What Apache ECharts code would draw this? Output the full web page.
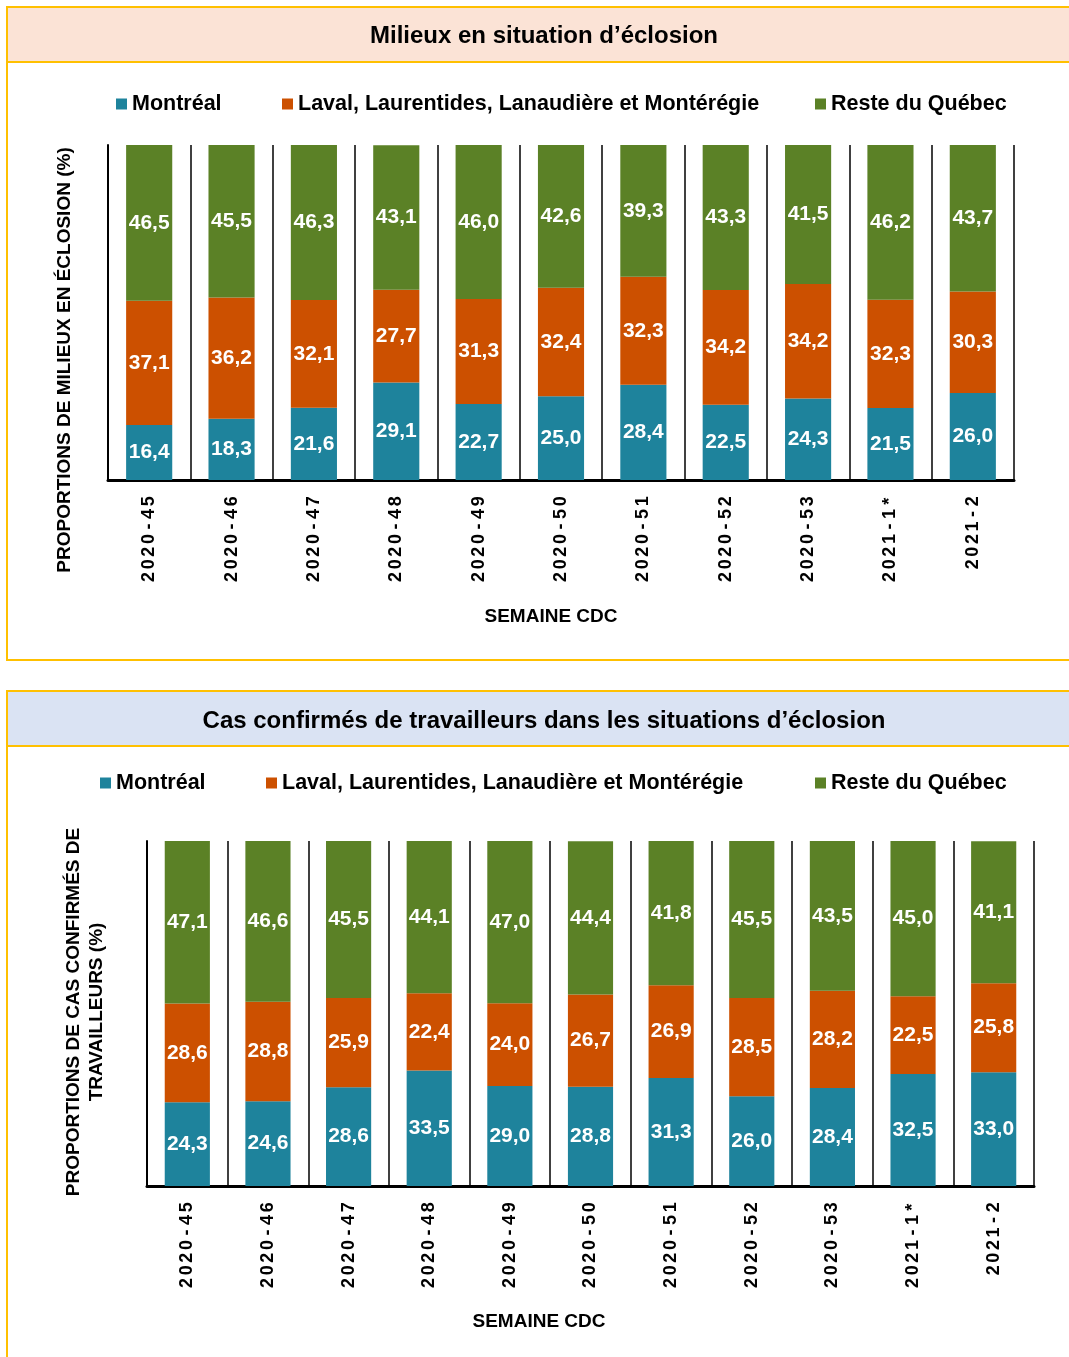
<!DOCTYPE html>
<html><head><meta charset="utf-8">
<script src="https://cdn.jsdelivr.net/npm/echarts@6/dist/echarts.min.js"></script>
<style>html,body{margin:0;padding:0;background:#fff}#c{width:1069px;height:1357px}</style>
</head><body><div id="c"></div>
<script>
const categories = ['2020-45','2020-46','2020-47','2020-48','2020-49','2020-50','2020-51','2020-52','2020-53','2021-1*','2021-2'];
const seriesNames = ['Montréal','Laval, Laurentides, Lanaudière et Montérégie','Reste du Québec'];
// Panel 1: Milieux en situation d'éclosion
const milieuxMontreal = [16.4,18.3,21.6,29.1,22.7,25.0,28.4,22.5,24.3,21.5,26.0];
const milieuxLaval    = [37.1,36.2,32.1,27.7,31.3,32.4,32.3,34.2,34.2,32.3,30.3];
const milieuxReste    = [46.5,45.5,46.3,43.1,46.0,42.6,39.3,43.3,41.5,46.2,43.7];
// Panel 2: Cas confirmés de travailleurs
const casMontreal = [24.3,24.6,28.6,33.5,29.0,28.8,31.3,26.0,28.4,32.5,33.0];
const casLaval    = [28.6,28.8,25.9,22.4,24.0,26.7,26.9,28.5,28.2,22.5,25.8];
const casReste    = [47.1,46.6,45.5,44.1,47.0,44.4,41.8,45.5,43.5,45.0,41.1];

const colors = ['#1E839C','#CC5000','#5B8126'];
const FONT = 'Liberation Sans, Arial, sans-serif';
const fmt = p => p.value.toFixed(1).replace('.', ',');

function bars(data, idx, gi) {
  return {
    type:'bar', name: seriesNames[idx], stack:'s'+gi, xAxisIndex:gi, yAxisIndex:gi,
    data: data, barWidth:'56%', itemStyle:{color:colors[idx]},
    label:{show:true, position:'inside', color:'#fff', fontFamily:FONT, fontWeight:'bold', fontSize:21, formatter:fmt}
  };
}
// spaced characters (letter-spacing look of the original tick labels)
const spaced = v => v.split('').map(ch => '{c|' + ch + '}').join('');
function xAx(gi){
  return {type:'category', gridIndex:gi, data:categories,
    axisLine:{lineStyle:{color:'#000', width:3}}, axisTick:{show:false},
    splitLine:{show:true, lineStyle:{color:'#000', width:1.5}},
    axisLabel:{rotate:90, margin:15, color:'#000', fontFamily:FONT, fontWeight:'bold', fontSize:18,
      formatter:spaced,
      rich:{c:{width:12.6, align:'center', color:'#000', fontFamily:FONT, fontWeight:'bold', fontSize:18}}}};
}
function yAx(gi){
  return {type:'value', gridIndex:gi, min:0, max:100, interval:20,
    axisLine:{show:true, lineStyle:{color:'#000', width:2}}, axisTick:{show:false},
    axisLabel:{show:false}, splitLine:{show:false}};
}
function legend(name, left, top){
  return {data:[name], left:left, top:top, padding:0, icon:'rect', itemWidth:11, itemHeight:11, itemGap:0,
    textStyle:{color:'#000', fontFamily:FONT, fontWeight:'bold', fontSize:21.5}};
}
const txt = (text, x, y, size, rot, lh) => ({type:'text', x:x, y:y, rotation:rot||0,
  style:{text:text, fill:'#000', font:'bold '+size+'px '+FONT, lineHeight:lh||size*1.2, textAlign:'center', textVerticalAlign:'middle'}});

const chart = echarts.init(document.getElementById('c'), null, {renderer:'canvas'});
chart.setOption({
  animation:false,
  grid:[{left:108, right:55, top:145, height:335}, {left:147, right:35, top:841, height:345}],
  xAxis:[xAx(0), xAx(1)],
  yAxis:[yAx(0), yAx(1)],
  legend:[
    legend(seriesNames[0],116,93), legend(seriesNames[1],282,93), legend(seriesNames[2],815,93),
    legend(seriesNames[0],100,772), legend(seriesNames[1],266,772), legend(seriesNames[2],815,772)
  ],
  graphic:[
    {type:'rect', z:-10, shape:{x:7,y:7,width:1080,height:55}, style:{fill:'#FBE3D6'}},
    {type:'rect', z:-9, shape:{x:7,y:7,width:1080,height:653}, style:{fill:'none', stroke:'#FFC000', lineWidth:2}},
    {type:'line', z:-9, shape:{x1:7,y1:62,x2:1069,y2:62}, style:{stroke:'#FFC000', lineWidth:2}},
    {type:'rect', z:-10, shape:{x:7,y:691,width:1080,height:55}, style:{fill:'#DAE3F3'}},
    {type:'rect', z:-9, shape:{x:7,y:691,width:1080,height:700}, style:{fill:'none', stroke:'#FFC000', lineWidth:2}},
    {type:'line', z:-9, shape:{x1:7,y1:746,x2:1069,y2:746}, style:{stroke:'#FFC000', lineWidth:2}},
    txt('Milieux en situation d’éclosion', 544, 36, 24),
    txt('Cas confirmés de travailleurs dans les situations d’éclosion', 544, 721, 24),
    txt('PROPORTIONS DE MILIEUX EN ÉCLOSION (%)', 65, 360, 19, Math.PI/2),
    txt('PROPORTIONS DE CAS CONFIRMÉS DE\nTRAVAILLEURS (%)', 85, 1012, 19, Math.PI/2, 23),
    txt('SEMAINE CDC', 551, 617, 19),
    txt('SEMAINE CDC', 539, 1322, 19)
  ],
  series:[
    bars(milieuxMontreal,0,0), bars(milieuxLaval,1,0), bars(milieuxReste,2,0),
    bars(casMontreal,0,1), bars(casLaval,1,1), bars(casReste,2,1)
  ]
});
</script></body></html>
